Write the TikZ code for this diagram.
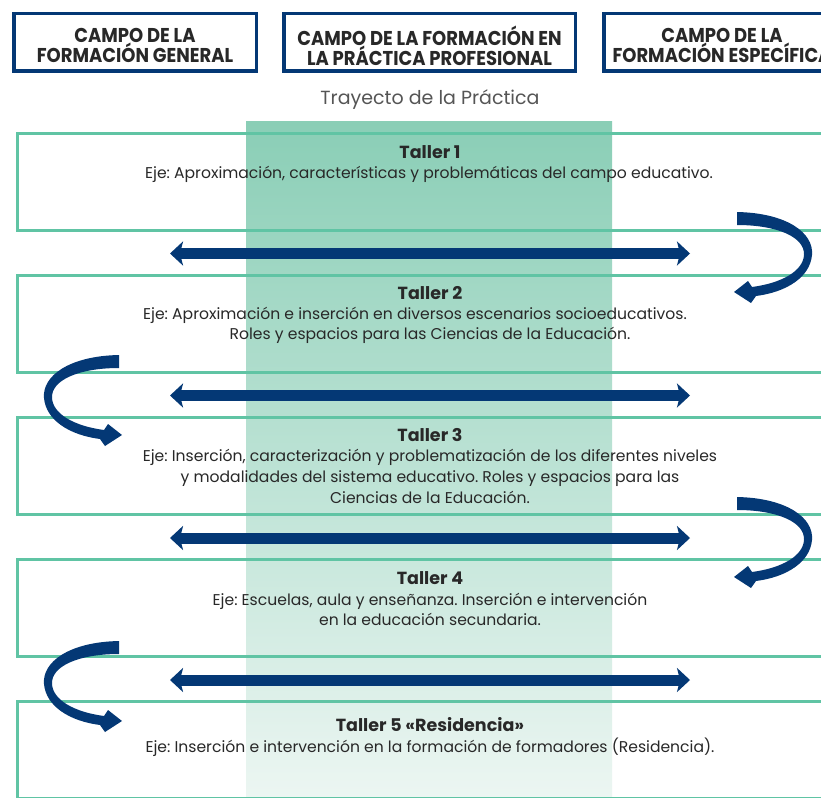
\documentclass[tikz,border=0pt]{standalone}
\usepackage{fontspec}
\setmainfont{Poppins}
\newfontfamily\headfont{Poppins}[FakeStretch=0.9]
\usetikzlibrary{arrows.meta}
\frenchspacing
\definecolor{navy}{RGB}{4,56,117}
\definecolor{mint}{RGB}{96,196,164}
\definecolor{bandtop}{RGB}{138,206,182}
\definecolor{bandbot}{RGB}{236,246,242}
\definecolor{txt}{RGB}{40,40,40}
\definecolor{subtxt}{RGB}{85,85,85}
\tikzset{
  hbox/.style={draw=navy, line width=3.5pt, fill=white},
  htext/.style={align=center, inner sep=0pt,
    font=\headfont\bfseries\fontsize{20}{20}\selectfont, text=txt},
  rowbox/.style={draw=mint, line width=3pt},
  ttl/.style={anchor=base, inner sep=0pt, font=\bfseries\fontsize{17.5}{20}\selectfont, text=txt},
  bodyline/.style={anchor=base, inner sep=0pt, font=\fontsize{15.6}{20}\selectfont, text=txt},
  dblarrow/.style={navy, line width=11pt, {Stealth[length=13pt,width=24pt,inset=3pt]}-{Stealth[length=13pt,width=24pt,inset=3pt]}},
}
\newcommand\uturnarrow[3]{%
  \begin{scope}[shift={(#1,#2)}, xscale=#3]
    \fill[navy] (0,-43) .. controls (50,-42) and (77,-22) .. (75,0)
      .. controls (73,22) and (50,37) .. (19,41)
      -- (14,48) -- (-3,37) -- (11,26) -- (15,32)
      .. controls (45,28) and (66,16) .. (67,0)
      .. controls (68,-18) and (40,-30) .. (0,-30) -- cycle;
  \end{scope}}
\begin{document}
\begin{tikzpicture}[x=1pt,y=-1pt]
\useasboundingbox (0,0) rectangle (821,797);
\clip (0,0) rectangle (821,797);
\fill[white] (0,0) rectangle (821,797);
% band
\shade[top color=bandtop, bottom color=bandbot] (246,122) rectangle (612,797);
% headers
\draw[hbox] (13.75,13.75) rectangle (256.25,71.25);
\draw[hbox] (283.75,13.75) rectangle (575.25,71.25);
\draw[hbox] (603.75,13.75) rectangle (840.25,71.25);
\node[htext] (h1) at (135,45.5) {CAMPO DE LA\\FORMACIÓN GENERAL};
\node[htext] (h2) at (429.5,45.5) {CAMPO DE LA FORMACIÓN EN\\LA PRÁCTICA PROFESIONAL};
\node[htext] (h3) at (722,45.5) {CAMPO DE LA\\FORMACIÓN ESPECÍFICA};
\node[anchor=base, inner sep=0pt, font=\fontsize{19}{20}\selectfont, text=subtxt] (tr) at (430,105) {Trayecto de la Práctica};
% row boxes
\foreach \t in {133.5,275.5,417.5,559.5,701.5}{
  \draw[rowbox] (17.5,\t) rectangle (835,\t+97);
}
% texts
\node[ttl] (t1) at (430,158) {Taller 1};
\node[bodyline] (t1a) at (429,178) {Eje: Aproximación, características y problemáticas del campo educativo.};
\node[ttl] (t2) at (430,299) {Taller 2};
\node[bodyline] (t2a) at (415,319) {Eje: Aproximación e inserción en diversos escenarios socioeducativos.};
\node[bodyline] (t2b) at (430,339) {Roles y espacios para las Ciencias de la Educación.};
\node[ttl] (t3) at (430,441) {Taller 3};
\node[bodyline] (t3a) at (430,461) {Eje: Inserción, caracterización y problematización de los diferentes niveles};
\node[bodyline] (t3b) at (430,482) {y modalidades del sistema educativo. Roles y espacios para las};
\node[bodyline] (t3c) at (430,503) {Ciencias de la Educación.};
\node[ttl] (t4) at (430,584) {Taller 4};
\node[bodyline] (t4a) at (430,605) {Eje: Escuelas, aula y enseñanza. Inserción e intervención};
\node[bodyline] (t4b) at (430,625) {en la educación secundaria.};
\node[ttl] (t5) at (430,731) {Taller 5 «Residencia»};
\node[bodyline] (t5a) at (430,752) {Eje: Inserción e intervención en la formación de formadores (Residencia).};
% double arrows
\foreach \y/\n in {253.5/a,395.5/b,538/c,680/d}{
  \coordinate (l\n) at (170,\y);
  \coordinate (r\n) at (690,\y);
  \draw[dblarrow] (l\n) -- (r\n);
}
% u-turn arrows
\uturnarrow{737}{255}{1}
\uturnarrow{119}{398}{-1}
\uturnarrow{737}{540}{1}
\uturnarrow{119}{684}{-1}
\end{tikzpicture}
\end{document}
